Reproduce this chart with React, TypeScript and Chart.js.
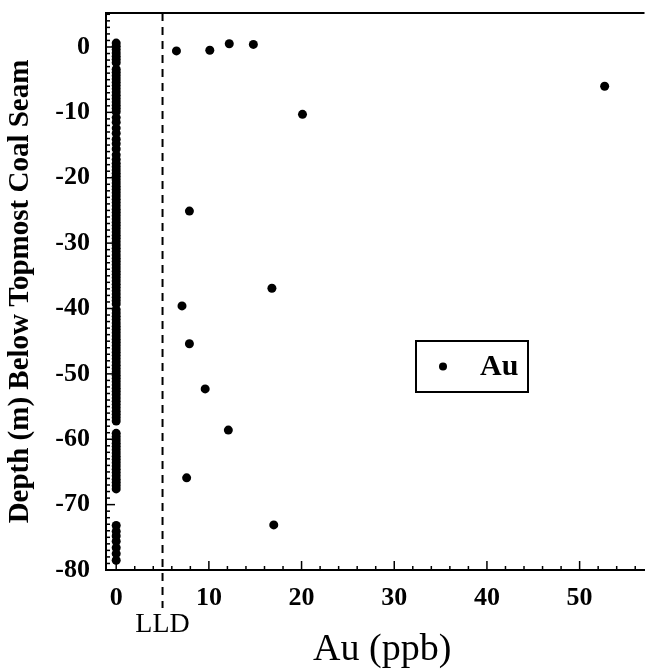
import React, { useEffect, useRef } from "react";
import { Chart, registerables } from "chart.js";

Chart.register(...registerables);

// Samples below detection limit, plotted at Au = 0 (depth in m)
const ZERO_DEPTHS = [
  0.6, 0.1, -0.4, -0.9, -1.4, -1.9, -2.4, -3.4, -3.9, -4.4, -4.9, -5.4, -5.9, -6.4, -6.9,
  -7.4, -7.9, -8.4, -8.9, -9.4, -9.9, -10.8, -11.5, -12.4, -13.2, -14.1, -14.8, -15.6,
  -16.5, -17.2, -17.8, -18.3, -18.8, -19.3, -19.8, -20.3, -20.8, -21.3, -21.8, -22.3,
  -22.8, -23.3, -23.8, -24.3, -24.8, -25.3, -25.8, -26.3, -26.8, -27.3, -27.8, -28.3,
  -28.8, -29.3, -29.8, -30.3, -30.8, -31.3, -31.8, -32.3, -32.8, -33.3, -33.8, -34.3,
  -34.8, -35.3, -35.8, -36.3, -36.8, -37.3, -37.8, -38.3, -38.8, -39.3, -40.2, -40.7,
  -41.2, -41.7, -42.2, -42.7, -43.2, -43.7, -44.2, -44.7, -45.2, -45.7, -46.2, -46.7,
  -47.2, -47.7, -48.2, -48.7, -49.2, -49.7, -50.2, -50.7, -51.2, -51.7, -52.2, -52.7,
  -53.2, -53.7, -54.2, -54.7, -55.2, -55.7, -56.2, -56.7, -57.2, -59.1, -59.6, -60.1,
  -60.6, -61.1, -61.6, -62.1, -62.6, -63.1, -63.6, -64.1, -64.6, -65.1, -65.6, -66.1,
  -66.6, -67.1, -67.6, -73.2, -74.1, -74.8, -75.6, -76.6, -77.5, -78.5,
];

// Samples above detection limit
const AU_VALUES = [6.5, 10.1, 12.2, 14.8, 52.7, 20.1, 7.9, 16.8, 7.1, 7.9, 9.6, 12.1, 7.6, 17.0];
const AU_DEPTHS = [-0.6, -0.5, 0.5, 0.4, -6.0, -10.3, -25.1, -36.9, -39.6, -45.4, -52.3, -58.6, -65.9, -73.1];

const X_TICKS = [0, 10, 20, 30, 40, 50];
const Y_TICKS = [-80, -70, -60, -50, -40, -30, -20, -10, 0];
const LLD_VALUE = 5;

const SERIF = '"Liberation Serif", "Times New Roman", serif';

const decorPlugin = {
  id: "decor",
  afterDraw(chart: any) {
    const { ctx, chartArea, scales } = chart;
    const xs = scales.x;
    const ys = scales.y;
    ctx.save();
    ctx.strokeStyle = "#000";
    ctx.fillStyle = "#000";
    // top border
    ctx.lineWidth = 2;
    ctx.beginPath();
    ctx.moveTo(chartArea.left, chartArea.top);
    ctx.lineTo(chartArea.right, chartArea.top);
    ctx.stroke();
    // inward ticks x
    ctx.lineWidth = 1.5;
    for (let v = 0; v <= xs.max; v += 2) {
      const px = xs.getPixelForValue(v);
      const len = v % 10 === 0 ? 9 : 4;
      ctx.beginPath();
      ctx.moveTo(px, chartArea.bottom);
      ctx.lineTo(px, chartArea.bottom - len);
      ctx.stroke();
    }
    // inward ticks y
    for (let v = -80; v <= ys.max; v += 1) {
      const py = ys.getPixelForValue(v);
      const len = v % 10 === 0 ? 9 : 4;
      ctx.beginPath();
      ctx.moveTo(chartArea.left, py);
      ctx.lineTo(chartArea.left + len, py);
      ctx.stroke();
    }
    // LLD dashed line
    const lx = xs.getPixelForValue(LLD_VALUE);
    ctx.lineWidth = 2;
    ctx.setLineDash([8, 6]);
    ctx.beginPath();
    ctx.moveTo(lx, chartArea.top);
    ctx.lineTo(lx, chartArea.bottom + 38);
    ctx.stroke();
    ctx.setLineDash([]);
    ctx.font = `28px ${SERIF}`;
    ctx.textAlign = "center";
    ctx.textBaseline = "middle";
    ctx.fillText("LLD", lx, chartArea.bottom + 55);
    // x axis title
    ctx.font = `38px ${SERIF}`;
    ctx.fillText(xs.options.title.text, (chartArea.left + chartArea.right) / 2 + 7, chartArea.bottom + 80);
    // legend box
    const bx = 416, by = 341, bw = 112, bh = 51;
    ctx.lineWidth = 2;
    ctx.strokeRect(bx, by, bw, bh);
    ctx.beginPath();
    ctx.arc(bx + 27, by + bh / 2, 4, 0, Math.PI * 2);
    ctx.fill();
    ctx.font = `bold 30px ${SERIF}`;
    ctx.textAlign = "left";
    ctx.fillText(chart.data.datasets[1].label, bx + 64, by + bh / 2 + 1);
    ctx.restore();
  },
};

export default function App() {
  const ref = useRef<HTMLCanvasElement | null>(null);
  useEffect(() => {
    const canvas = ref.current;
    if (!canvas) return;
    const zeroData = ZERO_DEPTHS.map((d) => ({ x: 0, y: d }));
    const auData = AU_VALUES.map((v, i) => ({ x: v, y: AU_DEPTHS[i] }));
    const chart = new Chart(canvas, {
      type: "scatter",
      data: {
        datasets: [
          {
            label: "Au (<LLD)",
            data: zeroData,
            backgroundColor: "#000",
            borderColor: "#000",
            pointRadius: 4.5,
            pointBorderWidth: 0,
          },
          {
            label: "Au",
            data: auData,
            backgroundColor: "#000",
            borderColor: "#000",
            pointRadius: 4.5,
            pointBorderWidth: 0,
          },
        ],
      },
      options: {
        responsive: false,
        animation: false,
        layout: { padding: { top: 13, left: 0, right: 0, bottom: 0 } },
        plugins: { legend: { display: false }, tooltip: { enabled: false } },
        scales: {
          x: {
            type: "linear",
            min: -1.1,
            max: 57,
            afterBuildTicks: (s: any) => {
              s.ticks = X_TICKS.map((v) => ({ value: v }));
            },
            afterFit: (s: any) => {
              s.height = 102;
              s.paddingLeft = 0;
              s.paddingRight = 0;
            },
            grid: { display: true, drawOnChartArea: false, drawTicks: false },
            border: { display: true, color: "#000", width: 2 },
            ticks: {
              color: "#000",
              padding: 13,
              font: { family: SERIF, size: 26, weight: "bold" },
            },
            title: {
              display: false,
              text: "Au (ppb)",
            },
          },
          y: {
            type: "linear",
            min: -80,
            max: 5.2,
            afterBuildTicks: (s: any) => {
              s.ticks = Y_TICKS.map((v) => ({ value: v }));
            },
            afterFit: (s: any) => {
              s.width = 106;
              s.paddingTop = 0;
              s.paddingBottom = 0;
            },
            grid: { display: true, drawOnChartArea: false, drawTicks: false },
            border: { display: true, color: "#000", width: 2 },
            ticks: {
              color: "#000",
              padding: 16,
              font: { family: SERIF, size: 26, weight: "bold" },
            },
            title: {
              display: true,
              text: "Depth (m) Below Topmost Coal Seam",
              color: "#000",
              font: { family: SERIF, size: 29, weight: "bold" },
              padding: { top: 3, bottom: 0 },
            },
          },
        },
      },
      plugins: [decorPlugin],
    });
    return () => chart.destroy();
  }, []);
  return (
    <div style={{ position: "absolute", left: 0, top: 0, width: 649, height: 672, background: "#fff" }}>
      <canvas ref={ref} width={649} height={672} style={{ display: "block" }} />
    </div>
  );
}
